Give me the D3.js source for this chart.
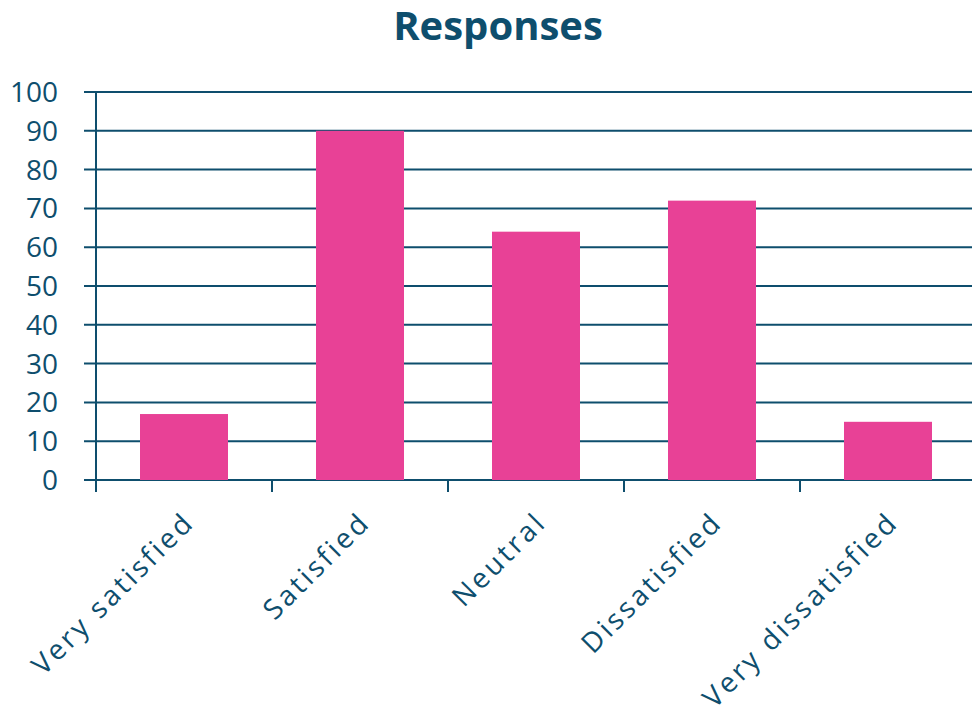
<!DOCTYPE html>
<html><head><meta charset="utf-8">
<script src="https://cdn.jsdelivr.net/npm/d3@7/dist/d3.min.js"></script>
<style>body{margin:0;background:#fff}svg{display:block}</style>
</head><body>
<svg id="c" width="972" height="711"></svg>
<script>
const categories = ["Very satisfied","Satisfied","Neutral","Dissatisfied","Very dissatisfied"];
const values = [17, 90, 64, 72, 15];
const yTicks = [0,10,20,30,40,50,60,70,80,90,100];
const title = "Responses";

const dark = "#0e4e6d", pink = "#e84196";
const font = "'Open Sans', sans-serif";
const svg = d3.select("#c");
const m = {l:96, r:976, t:92, b:480};
const x = d3.scaleBand().domain(categories).range([m.l, m.r]).paddingInner(0.5).paddingOuter(0.25);
const xb = d3.scaleBand().domain(categories).range([m.l, m.r]);
const y = d3.scaleLinear().domain([0,100]).range([m.b, m.t]);

// gridlines
svg.append("g").selectAll("line").data(yTicks).join("line")
  .attr("x1", m.l-12).attr("x2", 972).attr("y1", d=>y(d)).attr("y2", d=>y(d))
  .attr("stroke", dark).attr("stroke-width", 2);

// bars
svg.append("g").selectAll("rect").data(values).join("rect")
  .attr("x", (d,i)=>x(categories[i])).attr("width", x.bandwidth())
  .attr("y", d=>y(d)).attr("height", d=>y(0)-y(d)).attr("fill", pink);

// y axis line
svg.append("line").attr("x1", m.l).attr("x2", m.l).attr("y1", m.t).attr("y2", m.b+12)
  .attr("stroke", dark).attr("stroke-width", 2);
// x ticks at band boundaries
svg.append("g").selectAll("line").data(categories).join("line")
  .attr("x1", d=>xb(d)).attr("x2", d=>xb(d)).attr("y1", m.b).attr("y2", m.b+12)
  .attr("stroke", dark).attr("stroke-width", 2);

// y labels
svg.append("g").selectAll("text").data(yTicks).join("text")
  .attr("x", 58).attr("y", d=>y(d)).attr("dy", "0.36em").attr("text-anchor", "end")
  .attr("font-family", font).attr("font-size", 28).attr("fill", dark).text(d=>d);

// x labels rotated
svg.append("g").selectAll("text").data(categories).join("text")
  .attr("text-anchor", "end").attr("font-family", font).attr("font-size", 28).attr("fill", dark)
  .attr("letter-spacing", 3)
  .attr("transform", d=>`translate(${xb(d)+xb.bandwidth()/2+12},${m.b+44}) rotate(-45)`)
  .text(d=>d);

svg.append("text").attr("x", 498).attr("y", 40).attr("text-anchor", "middle")
  .attr("font-family", font).attr("font-weight", "bold").attr("font-size", 40).attr("fill", dark).text(title);
</script>
</body></html>
